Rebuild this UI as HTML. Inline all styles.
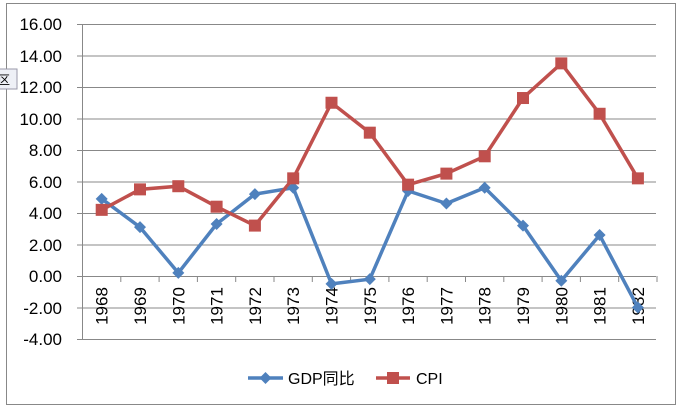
<!DOCTYPE html>
<html><head><meta charset="utf-8"><style>body{margin:0;background:#fff}</style></head><body>
<svg width="681" height="410" xmlns="http://www.w3.org/2000/svg" font-family="Liberation Sans, Noto Sans CJK SC, sans-serif">
<rect x="6.5" y="3.5" width="669" height="401" fill="#fff" stroke="#888"/>
<g stroke="#888" stroke-width="1">
<line x1="77" y1="24.5" x2="656" y2="24.5"/><line x1="77" y1="56" x2="656" y2="56"/><line x1="77" y1="87.5" x2="656" y2="87.5"/><line x1="77" y1="119" x2="656" y2="119"/><line x1="77" y1="150.5" x2="656" y2="150.5"/><line x1="77" y1="182" x2="656" y2="182"/><line x1="77" y1="213.5" x2="656" y2="213.5"/><line x1="77" y1="245" x2="656" y2="245"/><line x1="77" y1="276.5" x2="656" y2="276.5"/><line x1="77" y1="308" x2="656" y2="308"/><line x1="77" y1="339.5" x2="656" y2="339.5"/>
<line x1="82.5" y1="24" x2="82.5" y2="340"/>
</g>
<g stroke="#888"><path d="M82.5 276v6M120.8 276v6M159.1 276v6M197.4 276v6M235.7 276v6M274 276v6M312.3 276v6M350.6 276v6M388.9 276v6M427.2 276v6M465.5 276v6M503.8 276v6M542.1 276v6M580.4 276v6M618.7 276v6M657 276v6"/></g>
<g font-size="17" text-anchor="end" fill="#000">
<text x="62" y="30">16.00</text><text x="62" y="62">14.00</text><text x="62" y="93">12.00</text><text x="62" y="125">10.00</text><text x="62" y="156">8.00</text><text x="62" y="188">6.00</text><text x="62" y="219">4.00</text><text x="62" y="251">2.00</text><text x="62" y="282">0.00</text><text x="62" y="314">-2.00</text><text x="62" y="345">-4.00</text>
</g>
<g font-size="17" fill="#000" text-anchor="middle" id="yrs"></g>
<polyline fill="none" stroke="#4f81bd" stroke-width="3.5" stroke-linejoin="round" points="101.7,198.8 140,227.2 178.3,272.9 216.6,224.0 254.9,194.1 293.2,187.8 331.5,283.9 369.8,279.2 408.1,190.9 446.4,203.5 484.7,187.8 523,225.6 561.3,280.7 599.6,235.1 637.9,307.5"/>
<polyline fill="none" stroke="#c0504d" stroke-width="3.5" points="101.7,209.9 140,189.4 178.3,186.2 216.6,206.7 254.9,225.6 293.2,178.4 331.5,102.8 369.8,132.7 408.1,184.7 446.4,173.6 484.7,156.3 523,98.0 561.3,63.4 599.6,113.8 637.9,178.4"/>
<g id="m"></g>
<line x1="248" y1="378" x2="283" y2="378" stroke="#4f81bd" stroke-width="3.5"/><path d="M265.5 372l6 6-6 6-6-6z" fill="#4f81bd"/>
<text x="288" y="384" font-size="16">GDP同比</text>
<line x1="376" y1="378" x2="410" y2="378" stroke="#c0504d" stroke-width="3.5"/><rect x="387" y="372" width="12" height="12" fill="#c0504d"/>
<text x="416" y="384" font-size="16">CPI</text>
<rect x="-4" y="69" width="21" height="20" fill="#eef0f6" stroke="#99a"/><text x="-2" y="84" font-size="12">区</text>
<script>
var yrs=document.getElementById('yrs'),m=document.getElementById('m'),ns='http://www.w3.org/2000/svg';
var g=[4.9,3.1,0.2,3.3,5.2,5.6,-0.5,-0.2,5.4,4.6,5.6,3.2,-0.3,2.6,-2.0],c=[4.2,5.5,5.7,4.4,3.2,6.2,11.0,9.1,5.8,6.5,7.6,11.3,13.5,10.3,6.2];
for(var i=0;i<15;i++){var x=101.7+i*38.3;
var t=document.createElementNS(ns,'text');t.setAttribute('transform','translate('+(x+6)+',306) rotate(-90)');t.textContent=1968+i;yrs.appendChild(t);
var y=276-c[i]*15.75,r=document.createElementNS(ns,'rect');r.setAttribute('x',x-6);r.setAttribute('y',y-6);r.setAttribute('width',12);r.setAttribute('height',12);r.setAttribute('fill','#c0504d');m.appendChild(r);
y=276-g[i]*15.75;var p=document.createElementNS(ns,'path');p.setAttribute('d','M'+x+' '+(y-6)+'l6 6-6 6-6-6z');p.setAttribute('fill','#4f81bd');m.insertBefore(p,m.firstChild);}
</script>
</svg>
</body></html>
